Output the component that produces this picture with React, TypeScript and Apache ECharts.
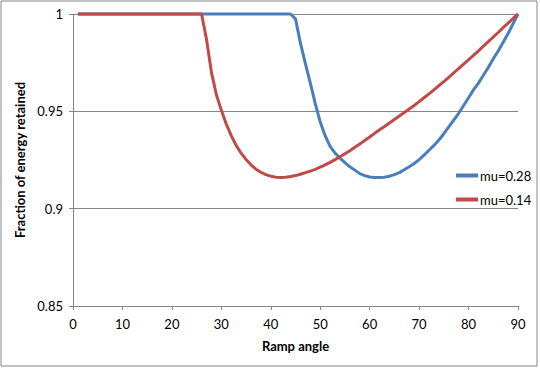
import React, { useEffect, useRef } from "react";
import * as echarts from "echarts";

const angles = [
  1, 2, 3, 4, 5, 6, 7, 8, 9, 10, 11, 12, 13, 14, 15, 16, 17, 18, 19, 20,
  21, 22, 23, 24, 25, 26, 27, 28, 29, 30, 31, 32, 33, 34, 35, 36, 37, 38, 39, 40,
  41, 42, 43, 44, 45, 46, 47, 48, 49, 50, 51, 52, 53, 54, 55, 56, 57, 58, 59, 60,
  61, 62, 63, 64, 65, 66, 67, 68, 69, 70, 71, 72, 73, 74, 75, 76, 77, 78, 79, 80,
  81, 82, 83, 84, 85, 86, 87, 88, 89, 90,
];

// mu = 0.28
const mu028 = [
  1, 1, 1, 1, 1, 1, 1, 1, 1, 1, 1, 1, 1, 1, 1, 1, 1, 1, 1, 1,
  1, 1, 1, 1, 1, 1, 1, 1, 1, 1, 1, 1, 1, 1, 1, 1, 1, 1, 1, 1,
  1, 1, 1, 1, 0.9975, 0.985, 0.9745, 0.9645, 0.954, 0.9445, 0.9375, 0.932, 0.9285, 0.926, 0.9237, 0.9215, 0.9198, 0.918, 0.917, 0.9163,
  0.916, 0.916, 0.9162, 0.9167, 0.9175, 0.9185, 0.92, 0.9215, 0.9232, 0.9252, 0.9275, 0.93, 0.9325, 0.9353, 0.9385, 0.942, 0.9455, 0.949, 0.953, 0.957,
  0.961, 0.9645, 0.9685, 0.9725, 0.977, 0.981, 0.9855, 0.99, 0.995, 1,
];

// mu = 0.14
const mu014 = [
  1, 1, 1, 1, 1, 1, 1, 1, 1, 1, 1, 1, 1, 1, 1, 1, 1, 1, 1, 1,
  1, 1, 1, 1, 1, 1, 0.987, 0.97, 0.9585, 0.9505, 0.9435, 0.9375, 0.9325, 0.9285, 0.9253, 0.9225, 0.9203, 0.9187, 0.9175, 0.9167,
  0.9162, 0.916, 0.9161, 0.9165, 0.917, 0.9177, 0.9185, 0.9193, 0.9202, 0.9213, 0.9225, 0.9238, 0.9252, 0.9267, 0.9282, 0.9298, 0.9315, 0.9332, 0.935, 0.9368,
  0.9387, 0.9405, 0.9422, 0.944, 0.9458, 0.9476, 0.9494, 0.9512, 0.953, 0.955, 0.957, 0.959, 0.961, 0.9632, 0.9653, 0.9675, 0.9697, 0.972, 0.9742, 0.9765,
  0.9788, 0.9811, 0.9835, 0.9858, 0.9882, 0.9905, 0.993, 0.9953, 0.9977, 1,
];

const seriesNames = ["mu=0.28", "mu=0.14"];
const seriesColors = ["#4A7EBB", "#BE4B48"];
const xTitle = "Ramp angle";
const yTitle = "Fraction of energy retained";

const FONT = "Lato, 'Open Sans', sans-serif";

export default function App() {
  const ref = useRef<HTMLDivElement>(null);

  useEffect(() => {
    document.body.style.margin = "0";
    if (!ref.current) return;
    const chart = echarts.init(ref.current, null, { renderer: "svg" });
    const toPairs = (vals: number[]) => angles.map((a, i) => [a, vals[i]]);
    const gray = "#868686";
    chart.setOption({
      animation: false,
      backgroundColor: "#ffffff",
      textStyle: { fontFamily: FONT },
      grid: { left: 73, right: 22, top: 14, bottom: 62, containLabel: false },
      xAxis: {
        type: "value",
        min: 0,
        max: 90,
        interval: 10,
        name: xTitle,
        nameLocation: "middle",
        nameGap: 33,
        nameTextStyle: { fontFamily: FONT, fontSize: 13, fontWeight: "bold", color: "#000" },
        axisLine: { show: true, lineStyle: { color: gray, width: 1 } },
        axisTick: { show: true, length: 4, lineStyle: { color: gray } },
        axisLabel: { fontFamily: FONT, fontSize: 13, color: "#000", margin: 11 },
        splitLine: { show: false },
      },
      yAxis: {
        type: "value",
        min: 0.85,
        max: 1,
        interval: 0.05,
        name: yTitle,
        nameLocation: "middle",
        nameGap: 41,
        nameRotate: 90,
        nameTextStyle: { fontFamily: FONT, fontSize: 13, fontWeight: "bold", color: "#000" },
        axisLine: { show: true, lineStyle: { color: gray, width: 1 } },
        axisTick: { show: true, length: 4, inside: false, lineStyle: { color: gray } },
        axisLabel: {
          fontFamily: FONT,
          fontSize: 13,
          color: "#000",
          margin: 10,
          formatter: (v: number) => String(+v.toFixed(2)),
        },
        splitLine: { show: true, lineStyle: { color: gray, width: 1 } },
      },
      legend: {
        orient: "vertical",
        left: 451,
        top: 164,
        itemGap: 11,
        itemWidth: 22,
        itemHeight: 4,
        icon: "rect",
        textStyle: { fontFamily: FONT, fontSize: 13, color: "#000", padding: [0, 0, 0, -3] },
        data: seriesNames,
      },
      series: [
        {
          name: seriesNames[0],
          type: "line",
          data: toPairs(mu028),
          showSymbol: false,
          symbol: "none",
          clip: false,
          lineStyle: { color: seriesColors[0], width: 3 },
          itemStyle: { color: seriesColors[0] },
          z: 2,
        },
        {
          name: seriesNames[1],
          type: "line",
          data: toPairs(mu014),
          showSymbol: false,
          symbol: "none",
          clip: false,
          lineStyle: { color: seriesColors[1], width: 3 },
          itemStyle: { color: seriesColors[1] },
          z: 3,
        },
      ],
      graphic: [
        {
          type: "rect",
          shape: { x: 1, y: 1, width: 536, height: 365 },
          style: { fill: "none", stroke: gray, lineWidth: 1 },
          silent: true,
        },
      ],
    });
    return () => chart.dispose();
  }, []);

  return <div ref={ref} style={{ width: 540, height: 368 }} />;
}
